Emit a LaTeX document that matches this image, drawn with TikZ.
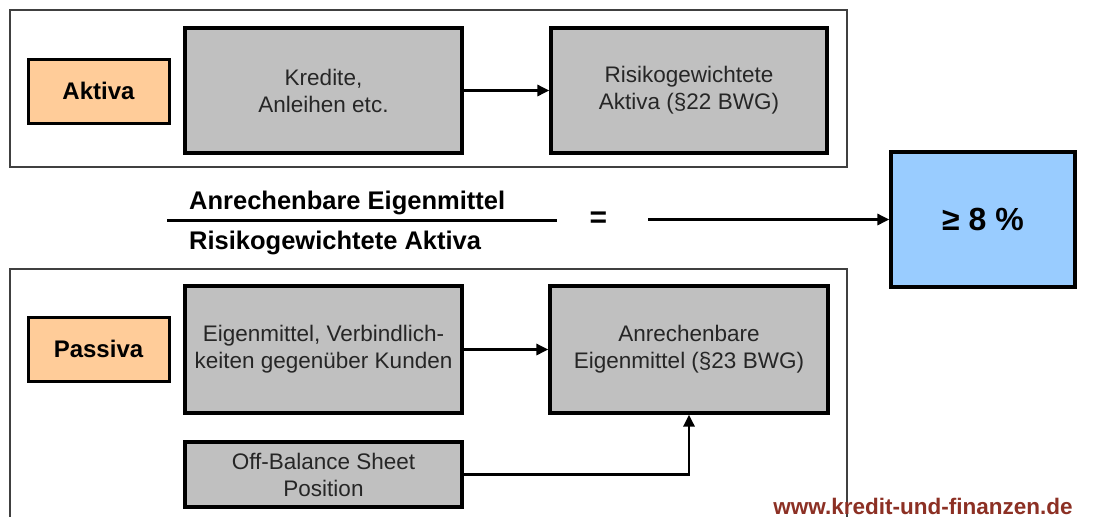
\documentclass[tikz,border=0pt]{standalone}
\usepackage{fontspec}
\setmainfont{Liberation Sans}
\usetikzlibrary{arrows.meta}
\definecolor{boxgray}{RGB}{192,192,192}
\definecolor{orangefill}{RGB}{255,204,153}
\definecolor{bluefill}{RGB}{153,204,255}
\definecolor{framegray}{RGB}{64,64,64}
\definecolor{wmred}{RGB}{140,48,36}
\tikzset{
  frame/.style={draw=framegray, line width=1.2pt},
  graybox/.style={draw=black, line width=3.2pt, fill=boxgray, align=center,
    inner sep=0pt, font=\fontsize{22.5}{27}\selectfont, text=black!85},
  labelbox/.style={draw=black, line width=3pt, fill=orangefill, inner sep=0pt,
    minimum width=141pt, minimum height=64pt, font=\fontsize{24}{28}\selectfont\bfseries},
  resultbox/.style={draw=black, line width=3.2pt, fill=bluefill, inner sep=0pt,
    minimum width=184pt, minimum height=135pt, font=\fontsize{32}{36}\selectfont\bfseries},
  conn/.style={line width=2.8pt, -{Triangle[length=12pt,width=11pt]}},
  fractext/.style={anchor=base west, inner sep=0pt, font=\fontsize{25.5}{30}\selectfont\bfseries}
}
\begin{document}
\begin{tikzpicture}[x=1pt,y=-1pt]
\useasboundingbox (0,0) rectangle (1093,517);
\begin{scope}
\clip (0,0) rectangle (1093,517);
% outer frames
\draw[frame] (10,10) rectangle (847,167);
\draw[frame] (10,269) rectangle (847,540);
\end{scope}
% top row
\node[labelbox] (aktiva) at (98.5,91) {Aktiva};
\node[graybox, minimum width=277pt, minimum height=125pt] (kredite) at (323.5,90.5) {Kredite,\\Anleihen etc.};
\node[graybox, minimum width=276pt, minimum height=125pt] (rwa) at (689,90.5) {Risikogewichtete\\Aktiva (§22 BWG)};
\draw[conn] (kredite.east) -- (rwa.west);
% fraction
\node[fractext] (num) at (189,209) {Anrechenbare Eigenmittel};
\node[fractext] (den) at (189,249) {Risikogewichtete Aktiva};
\coordinate (fl) at (167,220);
\coordinate (fr) at (557,220);
\draw[line width=3pt] (fl) -- (fr);
\node[inner sep=0pt, font=\fontsize{30}{34}\selectfont\bfseries] (eq) at (598.5,219.5) {=};
\node[resultbox] (res) at (983,219.5) {≥ 8 \%};
\coordinate (as) at (648,219.5);
\draw[conn] (as) -- (res.west);
% bottom row
\node[labelbox] (passiva) at (98.5,349) {Passiva};
\node[graybox, minimum width=277pt, minimum height=127pt] (eigen) at (323.5,349.5) {Eigenmittel, Verbindlich-\\keiten gegenüber Kunden};
\node[graybox, minimum width=278pt, minimum height=127pt] (anr) at (689,349.5) {Anrechenbare\\Eigenmittel (§23 BWG)};
\node[graybox, minimum width=277pt, minimum height=65pt] (off) at (323.5,474.5) {Off-Balance Sheet\\Position};
\draw[conn] (eigen.east) -- (anr.west);
\draw[conn] (off.east) -| (anr.south);
% watermark
\node[anchor=base, inner sep=0pt, text=wmred, font=\fontsize{22.5}{26}\selectfont\bfseries] (wm) at (923,514) {www.kredit-und-finanzen.de};
\end{tikzpicture}
\end{document}
